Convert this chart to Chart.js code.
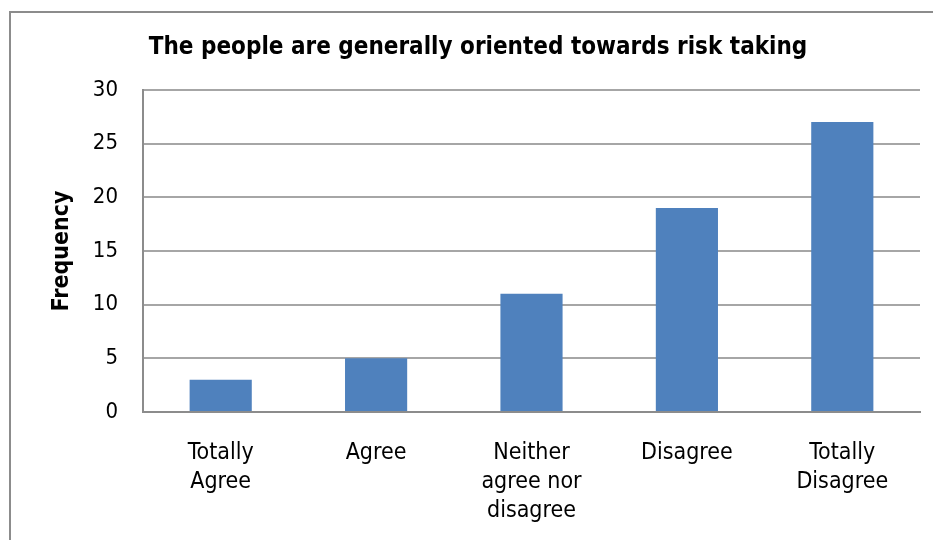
<!DOCTYPE html>
<html>
<head>
<meta charset="utf-8">
<script src="https://cdn.jsdelivr.net/npm/chart.js@4"></script>
<style>
  html, body { margin: 0; padding: 0; background: #fff; }
  #wrap { position: relative; width: 933px; height: 540px; overflow: hidden; }
  #frame { position: absolute; left: 9px; top: 11px; width: 1000px; height: 600px; border: 2px solid #8c8c8c; }
  #riskChart { position: absolute; left: 0; top: 0; }
</style>
</head>
<body>
<div id="wrap">
  <div id="frame"></div>
  <canvas id="riskChart" width="933" height="540"></canvas>
</div>
<script>
// Answers to "The people are generally oriented towards risk taking"
const categories = [['Totally', 'Agree'], 'Agree', ['Neither', 'agree nor', 'disagree'], 'Disagree', ['Totally', 'Disagree']];
const frequency = [3, 5, 11, 19, 27];
const yTicks = [0, 5, 10, 15, 20, 25, 30];

const labelFont = "'DejaVu Sans Condensed', 'DejaVu Sans', sans-serif";

const ctx = document.getElementById('riskChart').getContext('2d');

const riskChart = new Chart(ctx, {
    type: 'bar',
    data: {
        labels: categories,
        datasets: [{
            label: 'Frequency',
            data: frequency,
            backgroundColor: '#4f81bd',
            borderWidth: 0,
            categoryPercentage: 1.0,
            barPercentage: 0.4
        }]
    },
    options: {
        responsive: false,
        animation: false,
        layout: {
            padding: { left: 36, right: 13, top: 0, bottom: 0 }
        },
        plugins: {
            legend: { display: false },
            tooltip: { enabled: false },
            title: {
                display: true,
                text: 'The people are generally oriented towards risk taking',
                color: '#000',
                font: { family: labelFont, size: 24, weight: 'bold', lineHeight: 1.2 },
                padding: { top: 33, bottom: 28 }
            }
        },
        scales: {
            x: {
                grid: { display: false, drawTicks: false },
                border: { display: true, color: '#8c8c8c', width: 2 },
                ticks: {
                    color: '#000',
                    padding: 27,
                    maxRotation: 0,
                    autoSkip: false,
                    font: { family: labelFont, size: 23, lineHeight: 1.26 }
                },
                afterFit: function(scale) { scale.height = 128; }
            },
            y: {
                min: 0,
                max: 30,
                afterBuildTicks: function(scale) {
                    scale.ticks = yTicks.map(v => ({ value: v }));
                },
                grid: { color: '#a6a6a6', lineWidth: 2, drawTicks: false },
                border: { display: true, color: '#8c8c8c', width: 2 },
                ticks: {
                    color: '#000',
                    padding: 25,
                    font: { family: labelFont, size: 22 }
                },
                title: {
                    display: true,
                    text: 'Frequency',
                    color: '#000',
                    font: { family: labelFont, size: 23, weight: 'bold', lineHeight: 1.2 },
                    padding: { top: 12, bottom: 0 }
                },
                afterFit: function(scale) { scale.width = 107; }
            }
        }
    }
});
</script>
</body>
</html>
